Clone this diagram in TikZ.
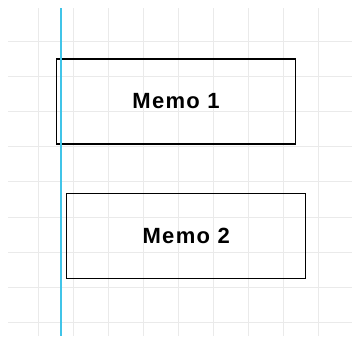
\documentclass[tikz,border=0pt]{standalone}
\usepackage{fontspec}
\setmainfont{Liberation Sans}
\newfontfamily\memofont[LetterSpace=6]{Liberation Sans}
\usepackage{tikz}
\usepackage{xcolor}
\definecolor{grisgrille}{RGB}{234,234,234}
\definecolor{cyanrepere}{RGB}{64,196,232}
\tikzset{
Grille/.style={
 draw=grisgrille, 
 line width=1pt
 },
Repere/.style={
 draw=cyanrepere, 
 line width=1.2pt
 },
Memo/.style={
 draw=black, 
 line width=1.4pt, 
 minimum width=239pt, 
 minimum height=85pt, 
 inner sep=0pt, 
 font=\memofont\bfseries\fontsize{22}{26}\selectfont
 }
}

\begin{document}
\begin{tikzpicture}[x=1pt,y=-1pt]
\useasboundingbox (0,0) rectangle (352,338);
\fill[white] (0,0) rectangle (352,338);
\foreach \k in {0,...,8} {
 \draw[Grille] (38+35.1*\k,8) -- (38+35.1*\k,336);
 \draw[Grille] (8,41.5+35.1*\k) -- (352,41.5+35.1*\k);
}
\node[Memo] (memoA) at (176,101.4) {Memo 1};
\node[Memo] (memoB) at (186.2,236) {Memo 2};
\coordinate (hautRepere) at (61,8);
\coordinate (basRepere) at (61,336);
\draw[Repere] (hautRepere) -- (basRepere);
\end{tikzpicture}
\end{document}
